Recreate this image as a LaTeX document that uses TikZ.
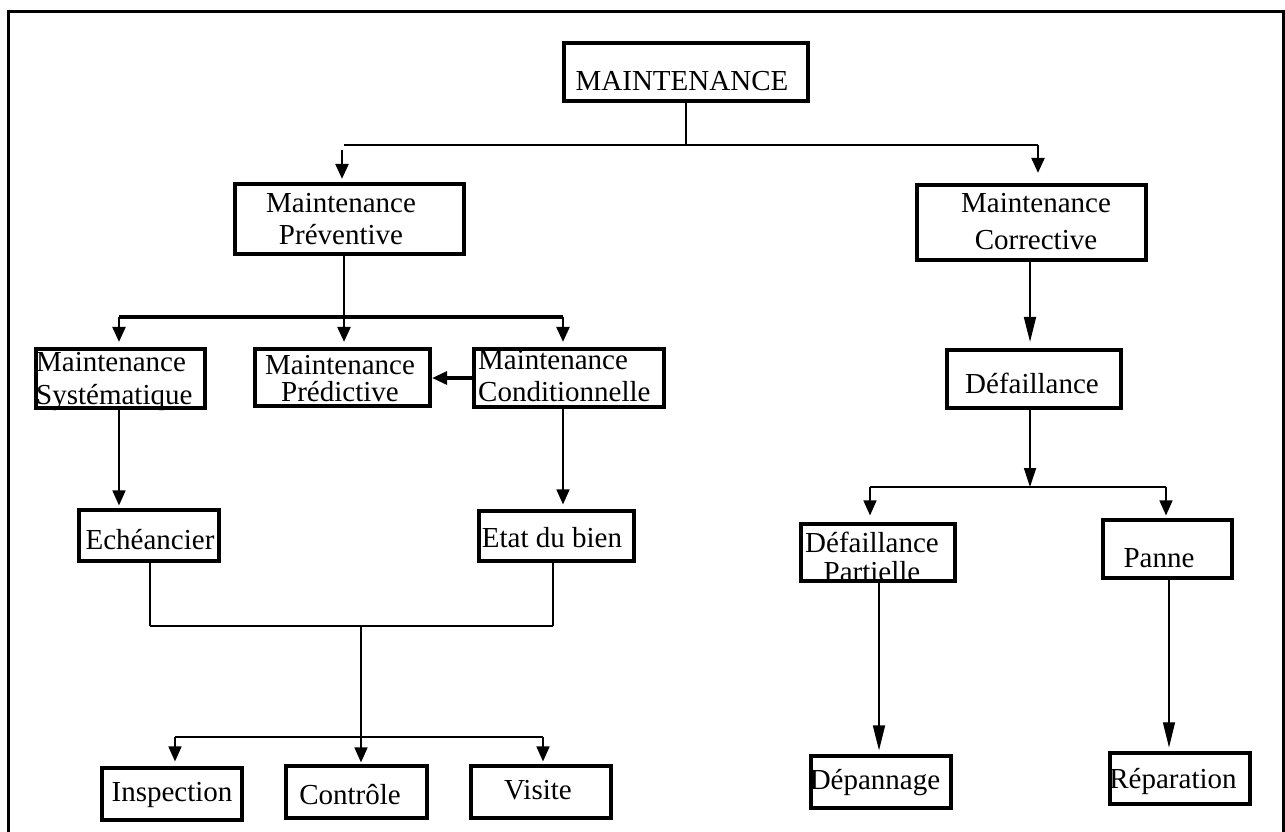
\documentclass[tikz,border=0pt]{standalone}
\usepackage{fontspec}
\setmainfont{Liberation Serif}
\usetikzlibrary{arrows.meta}
\begin{document}
\begin{tikzpicture}[x=1pt,y=-1pt,
  bx/.style 2 args={draw, line width=4.2pt, inner sep=0pt, minimum width=#1, minimum height=#2},
  txt/.style={font=\fontsize{29}{29}\selectfont, inner sep=0pt, align=center},
  txtl/.style={font=\fontsize{29}{29}\selectfont, inner sep=0pt, align=left, anchor=west},
  cA/.style={line width=1.1pt},
  cB/.style={line width=1.7pt},
  cC/.style={line width=2.4pt},
  cD/.style={line width=3.2pt},
  arrS/.style={-{Triangle[length=15pt,width=13pt]}},
  arrM/.style={-{Triangle[length=19pt,width=12pt]}},
  arrL/.style={-{Triangle[length=25pt,width=12pt]}}]
\useasboundingbox (0,0) rectangle (1285,831);
\fill[white] (0,0) rectangle (1285,831);
% frame
\draw[line width=3pt] (8,845) -- (8,11) -- (1283,11) -- (1283,845);

% boxes
\node[bx={244pt}{58pt}] (m) at (686,72) {};
\node[bx={229pt}{70pt}] (p) at (349.5,219) {};
\node[bx={229pt}{75pt}] (c) at (1031.5,222.5) {};
\node[bx={169pt}{59pt}] (s) at (120.5,378.5) {};
\node[bx={175pt}{57pt}] (pd) at (342.5,377.5) {};
\node[bx={190pt}{58pt}] (cd) at (569,378) {};
\node[bx={174pt}{58pt}] (d) at (1034,379) {};
\node[bx={140pt}{51pt}] (e) at (149,535.5) {};
\node[bx={155pt}{50pt}] (eb) at (556.5,536) {};
\node[bx={154pt}{57pt}] (dp) at (878,552.5) {};
\node[bx={129pt}{58pt}] (pa) at (1167.5,549) {};
\node[bx={140pt}{52pt}] (i) at (172,794) {};
\node[bx={141pt}{52pt}] (ct) at (356.5,792) {};
\node[bx={140pt}{52pt}] (v) at (541,792) {};
\node[bx={140pt}{52pt}] (dpn) at (881,782) {};
\node[bx={140pt}{51pt}] (r) at (1180,778.5) {};

% texts
\node[txt] (tm) at (682,81.4) {MAINTENANCE};
\node[txt] (tp) at (341,219) {Maintenance\\[3pt]Préventive};
\node[txt] (tc) at (1036,221.5) {Maintenance\\[8pt]Corrective};
\node[txtl] (ts) at (36,381.5) {Maintenance\\[4pt]Systématique};
\node[txt] (tpd) at (340,378.5) {Maintenance\\[-2pt]Prédictive};
\node[txtl] (tcd) at (478,376) {Maintenance\\[3pt]Conditionnelle};
\node[txt] (td) at (1032,383) {Défaillance};
\node[txt] (te) at (150,540) {Echéancier};
\node[txt] (teb) at (552,538) {Etat du bien};
\node[txt] (tdp) at (872,557) {Défaillance\\[0pt]Partielle};
\node[txt] (tpa) at (1159,558.4) {Panne};
\node[txt] (ti) at (172,795) {Inspection};
\node[txt] (tct) at (350,795) {Contrôle};
\node[txt] (tv) at (538,790) {Visite};
\node[txt] (tdpn) at (875,783) {Dépannage};
\node[txt] (tr) at (1173,781) {Réparation};

% junction coordinates
\coordinate (j0) at (686,145);
\coordinate (jL) at (344,145);
\coordinate (jR) at (1038,145);
\coordinate (aL) at (342,150);
\coordinate (k0) at (344,317);
\coordinate (kL) at (119,317);
\coordinate (kR) at (563,317);
\coordinate (l0) at (361,626);
\coordinate (l1) at (150,626);
\coordinate (l2) at (553,626);
\coordinate (n1) at (175,737);
\coordinate (n2) at (543,737);
\coordinate (r0) at (1030,487);
\coordinate (r1) at (870,487);
\coordinate (r2) at (1166,487);
\coordinate (u1) at (879,600);
\coordinate (u2) at (1169,600);

% connectors: top level
\draw[cA] (m.south) -- (j0);
\draw[cC] (jL) -- (jR);
\draw[cC,arrS,shorten >=3pt] (aL) -- (aL |- p.north);
\draw[cC,arrS,shorten >=10pt] (jR) -- (jR |- c.north);

% preventive branch
\draw[cA] (p.south -| k0) -- (k0);
\draw[cD] (kL) -- (kR);
\draw[cC,arrS,shorten >=5pt] (kL) -- (kL |- s.north);
\draw[cC,arrS,shorten >=5pt] (k0) -- (k0 |- pd.north);
\draw[cC,arrS,shorten >=5pt] (kR) -- (kR |- cd.north);
\draw[cD,arrS] (cd.west) -- (pd.east |- cd.west);
\draw[cB,arrS,shorten >=2.5pt] (s.south -| kL) -- (e.north -| kL);
\draw[cB,arrS,shorten >=4.5pt] (cd.south -| kR) -- (eb.north -| kR);
\draw[cA] (e.south -| l1) -- (l1);
\draw[cA] (eb.south -| l2) -- (l2);
\draw[cC] (l1) -- (l2);
\draw[cB,arrS,shorten >=1.5pt] (l0) -- (ct.north -| l0);
\draw[cB] (n1) -- (n2);
\draw[cB,arrS,shorten >=4.5pt] (n1) -- (i.north -| n1);
\draw[cB,arrS,shorten >=2.5pt] (n2) -- (v.north -| n2);

% corrective branch
\draw[cB,arrL,shorten >=6pt] (c.south -| r0) -- (d.north -| r0);
\draw[cB,arrM] (d.south -| r0) -- (r0);
\draw[cB] (r1) -- (r2);
\draw[cB,arrS,shorten >=6.5pt] (r1) -- (dp.north -| r1);
\draw[cB,arrS,shorten >=2.5pt] (r2) -- (pa.north -| r2);
\draw[cB,arrL,shorten >=3.5pt] (dp.south -| u1) -- (dpn.north -| u1);
\draw[cA,arrL,shorten >=3.5pt] (pa.south -| u2) -- (r.north -| u2);
\end{tikzpicture}
\end{document}
